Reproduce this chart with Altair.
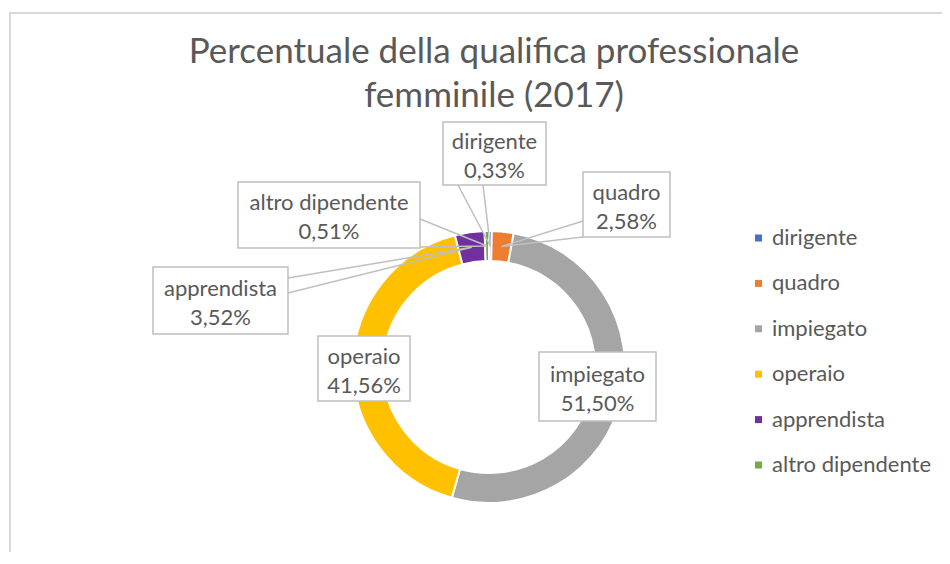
import altair as alt
import pandas as pd
import math

# ---- data ----
categories = ["dirigente", "quadro", "impiegato", "operaio", "apprendista", "altro dipendente"]
percent = [0.33, 2.58, 51.50, 41.56, 3.52, 0.51]
colors = ["#4472C4", "#ED7D31", "#A5A5A5", "#FFC000", "#7030A0", "#70AD47"]
title_lines = ["Percentuale della qualifica professionale", "femminile (2017)"]

# ---- layout (page pixel coordinates; page = view + 8) ----
W, H = 934, 544
CX, CY = 489, 367          # donut centre
R_OUT, R_IN = 136, 106
TITLE_X = 494
title_baseline = [63, 107]
# label boxes: left, right, top, bottom
box_left = [443, 583, 539, 318, 153, 238]
box_right = [546, 670, 656, 410, 288, 420]
box_top = [122, 172, 352, 336, 267, 182]
box_bottom = [185, 237, 421, 401, 334, 248]
# callout wedge bases (two points on box edge) for small slices
wedge_base = {
    "dirigente": [(458, 185), (483, 185)],
    "quadro": [(583, 221), (583, 237)],
    "apprendista": [(288, 278), (288, 293)],
    "altro dipendente": [(420, 219), (420, 247)],
}

TEXT = "#595959"
LINE = "#BFBFBF"
FONT = "Lato"
LABEL_SIZE = 22
LINE_H = 29

def fmt(v):
    return f"{v:.2f}".replace(".", ",") + "%"

df = pd.DataFrame({"cat": categories, "value": percent, "idx": range(len(categories))})

lab = pd.DataFrame({
    "cat": categories,
    "x0": box_left, "x1": box_right, "y0": box_top, "y1": box_bottom,
})
lab["cx"] = (lab.x0 + lab.x1) / 2
lab["cy"] = (lab.y0 + lab.y1) / 2
lab["label"] = [f"{c}\n{fmt(v)}" for c, v in zip(categories, percent)]

# leader wedges: tip at slice middle on ring centre line
total = sum(percent)
rows = []
cum = 0.0
r_mid = (R_OUT + R_IN) / 2
for c, v in zip(categories, percent):
    mid = (cum + v / 2) / total * 2 * math.pi
    cum += v
    if c in wedge_base:
        tx = CX + r_mid * math.sin(mid)
        ty = CY - r_mid * math.cos(mid)
        (ax, ay), (bx, by) = wedge_base[c]
        rows += [
            {"c": c, "k": 0, "px": ax, "py": ay},
            {"c": c, "k": 1, "px": tx, "py": ty},
            {"c": c, "k": 2, "px": bx, "py": by},
        ]
lead = pd.DataFrame(rows)

titles = pd.DataFrame({"t": title_lines, "x": [TITLE_X] * 2, "y": title_baseline})

xs = alt.Scale(domain=[8, 8 + W], range=[0, W], nice=False, zero=False)
ys = alt.Scale(domain=[8, 8 + H], range=[0, H], nice=False, zero=False)

frame = alt.Chart(pd.DataFrame({"a": [0]})).mark_rect(
    filled=False, stroke="#D9D9D9", strokeWidth=2
).encode(
    x=alt.value(2), x2=alt.value(3000), y=alt.value(5), y2=alt.value(3000)
)

donut = alt.Chart(df).mark_arc(
    innerRadius=R_IN, outerRadius=R_OUT, stroke="white", strokeWidth=2
).encode(
    theta=alt.Theta("value:Q", stack=True),
    order=alt.Order("idx:Q"),
    color=alt.Color(
        "cat:N",
        sort=categories,
        scale=alt.Scale(domain=categories, range=colors),
        legend=alt.Legend(
            title=None,
            orient="none",
            legendX=747.5 - 8,
            legendY=227 - 8,
            symbolType="square",
            symbolSize=49,
            symbolStrokeWidth=0,
            labelFont=FONT,
            labelFontSize=LABEL_SIZE,
            labelColor=TEXT,
            labelOffset=2.5,
            rowPadding=23.4,
            padding=0,
        ),
    ),
    x=alt.value(CX - 8),
    y=alt.value(CY - 8),
)

leaders = alt.Chart(lead).mark_line(color=LINE, strokeWidth=1.5).encode(
    x=alt.X("px:Q", scale=xs, axis=None),
    y=alt.Y("py:Q", scale=ys, axis=None),
    detail="c:N",
    order="k:Q",
)

boxes = alt.Chart(lab).mark_rect(fill="white", stroke=LINE, strokeWidth=1.5).encode(
    x=alt.X("x0:Q", scale=xs, axis=None),
    x2="x1:Q",
    y=alt.Y("y0:Q", scale=ys, axis=None),
    y2="y1:Q",
)

texts = alt.Chart(lab).mark_text(
    font=FONT, fontSize=LABEL_SIZE, color=TEXT, lineBreak="\n", lineHeight=LINE_H,
    align="center", baseline="middle", dy=-12,
).encode(
    x=alt.X("cx:Q", scale=xs, axis=None),
    y=alt.Y("cy:Q", scale=ys, axis=None),
    text="label:N",
)

title = alt.Chart(titles).mark_text(
    font=FONT, fontSize=35, color=TEXT, align="center", baseline="alphabetic",
).encode(
    x=alt.X("x:Q", scale=xs, axis=None),
    y=alt.Y("y:Q", scale=ys, axis=None),
    text="t:N",
)

chart = alt.layer(frame, title, donut, leaders, boxes, texts).properties(
    width=W,
    height=H,
    padding=0,
    autosize=alt.AutoSizeParams(type="none"),
).configure_view(stroke=None)

chart.save("out.html", embed_options={"renderer": "svg", "actions": False})
